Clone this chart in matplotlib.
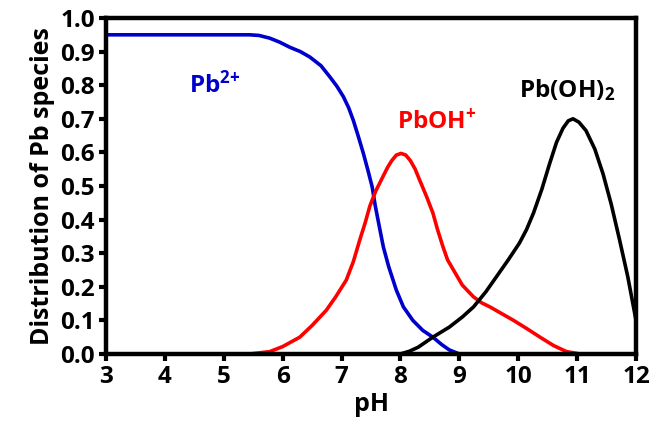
import numpy as np
import matplotlib.pyplot as plt

plt.rcParams['font.family'] = ['Open Sans', 'DejaVu Sans']
plt.rcParams['mathtext.fontset'] = 'custom'
plt.rcParams['mathtext.rm'] = 'Open Sans:bold'
plt.rcParams['mathtext.bf'] = 'Open Sans:bold'

# values
ph_pb2 = [3.0, 4.0, 5.0, 5.44, 5.6, 5.78, 5.95, 6.12, 6.3, 6.46, 6.65, 6.8, 6.92, 7.03,
          7.12, 7.2, 7.28, 7.37, 7.45, 7.52, 7.57, 7.64, 7.71, 7.8, 7.93, 8.05, 8.21,
          8.38, 8.55, 8.7, 8.83, 9.0, 10.0, 11.0]
pb2 = [0.95, 0.95, 0.95, 0.95, 0.948, 0.94, 0.928, 0.913, 0.9, 0.884, 0.858, 0.825, 0.797, 0.766,
       0.733, 0.695, 0.65, 0.597, 0.545, 0.497, 0.443, 0.38, 0.318, 0.26, 0.19, 0.14, 0.10,
       0.07, 0.05, 0.028, 0.012, 0.0, 0.0, 0.0]

ph_pboh = [3.0, 5.0, 5.44, 5.78, 6.0, 6.29, 6.5, 6.74, 6.9, 7.08, 7.2, 7.31, 7.4, 7.48,
           7.58, 7.68, 7.78, 7.85, 7.93, 8.01, 8.09, 8.17, 8.25, 8.32, 8.44, 8.55,
           8.63, 8.72, 8.8, 8.9, 9.05, 9.24, 9.38, 9.52, 9.72, 9.92, 10.15, 10.37,
           10.6, 10.82, 11.05, 12.0]
pboh = [0.0, 0.0, 0.0, 0.007, 0.022, 0.05, 0.085, 0.13, 0.17, 0.22, 0.275, 0.34, 0.39, 0.44,
        0.485, 0.52, 0.555, 0.575, 0.592, 0.597, 0.592, 0.575, 0.55, 0.52, 0.47, 0.42,
        0.37, 0.32, 0.28, 0.25, 0.205, 0.17, 0.152, 0.14, 0.12, 0.10, 0.075, 0.05,
        0.025, 0.007, 0.0, 0.0]

ph_pboh2 = [3.0, 8.0, 8.15, 8.3, 8.55, 8.83, 9.05, 9.24, 9.45, 9.63, 9.83, 10.02, 10.14,
            10.26, 10.4, 10.53, 10.65, 10.76, 10.85, 10.93, 11.03, 11.15, 11.3, 11.44,
            11.58, 11.72, 11.86, 12.0]
pboh2 = [0.0, 0.0, 0.008, 0.02, 0.05, 0.08, 0.11, 0.14, 0.185, 0.23, 0.28, 0.33, 0.37,
         0.42, 0.49, 0.565, 0.63, 0.672, 0.694, 0.70, 0.69, 0.665, 0.61, 0.536,
         0.445, 0.34, 0.23, 0.10]

fig = plt.figure(figsize=(6.52, 4.37), dpi=100)
ax = fig.add_axes([0.1626, 0.190, 0.8129, 0.7688])

ax.plot(ph_pb2, pb2, color='#0000cc', lw=2.6, solid_capstyle='butt')
ax.plot(ph_pboh, pboh, color='#ff0000', lw=2.6, solid_capstyle='butt')
ax.plot(ph_pboh2, pboh2, color='black', lw=2.6, solid_capstyle='butt')

ax.set_xlim(3, 12)
ax.set_ylim(0, 1.0)
ax.set_xticks(np.arange(3, 13, 1))
ax.set_yticks(np.arange(0, 1.01, 0.1))
ax.set_yticklabels(['%.1f' % v for v in np.arange(0, 1.01, 0.1)])

for s in ax.spines.values():
    s.set_linewidth(3.2)
ax.tick_params(direction='out', length=5, width=3, labelsize=17.5, pad=3)
for lab in ax.get_xticklabels() + ax.get_yticklabels():
    lab.set_fontweight('bold')

ax.set_xlabel('pH', fontsize=18, fontweight='bold', labelpad=2)
ax.set_ylabel('Distribution of Pb species', fontsize=18, fontweight='bold', labelpad=4)

ax.text(4.85, 0.80, '$\\mathbf{Pb^{2\\text{+}}}$', color='#0000cc', fontsize=17.5,
        ha='center', va='center')
ax.text(8.62, 0.69, '$\\mathbf{PbOH^{+}}$', color='#ff0000', fontsize=17.5,
        ha='center', va='center')
ax.text(10.83, 0.785, '$\\mathbf{Pb(OH)_{2}}$', color='black', fontsize=17.5,
        ha='center', va='center')

fig.savefig('out.png')
